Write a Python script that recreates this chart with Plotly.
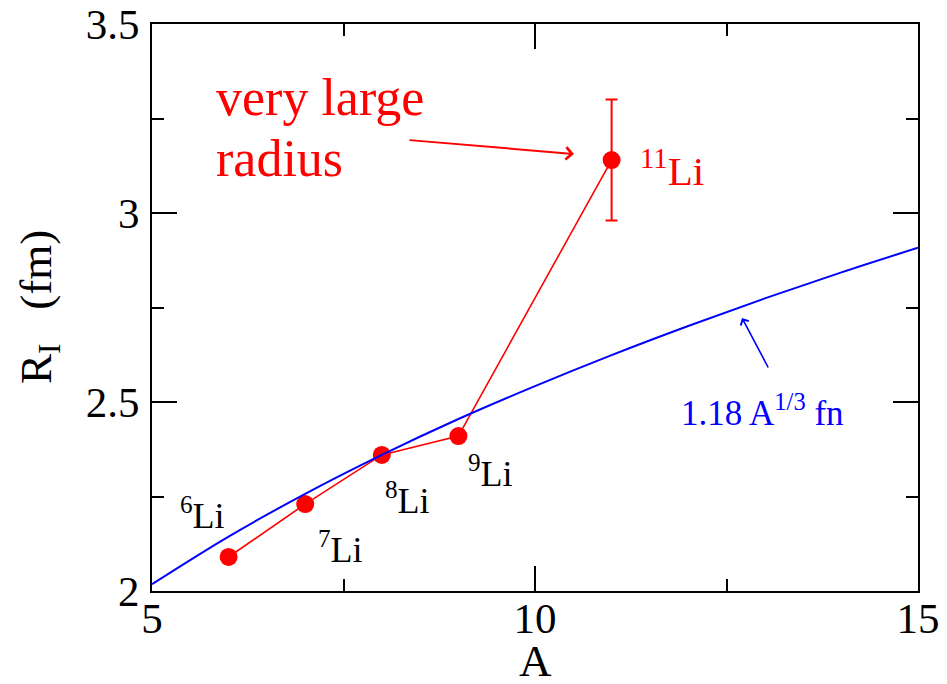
import plotly.graph_objects as go

# ---- data ----
mass_numbers = [6, 7, 8, 9, 11]
radii = [2.09, 2.23, 2.36, 2.41, 3.14]
radius_err = [0, 0, 0, 0, 0.16]
isotope_labels = ["<sup>6</sup>Li", "<sup>7</sup>Li", "<sup>8</sup>Li", "<sup>9</sup>Li", "<sup>11</sup>Li"]

curve_A = [5, 6, 7, 8, 9, 10, 11, 12, 13, 14, 15]
curve_R = [2.018, 2.144, 2.257, 2.360, 2.455, 2.542, 2.624, 2.701, 2.774, 2.843, 2.908]

x_ticks = [5, 10, 15]
y_ticks = [2, 2.5, 3, 3.5]
y_tick_text = ["2", "2.5", "3", "3.5"]

FONT = "Liberation Serif, Times New Roman, serif"
RED = "#ff0000"
BLUE = "#0000ff"

# pixel helpers for annotation placement
X0, X1, Y0, Y1 = 152, 918, 591, 24
def px_x(p):
    return 5 + (p - X0) * 10 / (X1 - X0)
def px_y(p):
    return 2 + (Y0 - p) * 1.5 / (Y0 - Y1)
def paper_x(p):
    return (p - X0) / (X1 - X0)
def paper_y(p):
    return (Y0 - p) / (Y0 - Y1)

fig = go.Figure()

fig.add_trace(go.Scatter(
    x=mass_numbers, y=radii, mode="lines+markers",
    line=dict(color=RED, width=1.6),
    marker=dict(color=RED, size=18),
    error_y=dict(type="data", array=radius_err, visible=True, color=RED, thickness=2, width=6),
    showlegend=False, hoverinfo="skip",
))

fig.add_trace(go.Scatter(
    x=curve_A, y=curve_R, mode="lines",
    line=dict(color=BLUE, width=2, shape="spline"),
    showlegend=False, hoverinfo="skip",
))

# isotope label positions (pixel: left edge, vertical centre)
label_pos = [(178, 513, "black", 36), (316, 547, "black", 36), (383, 498, "black", 36),
             (466, 471, "black", 36), (638, 168, RED, 41)]
for txt, (lx, ly, col, fs) in zip(isotope_labels, label_pos):
    fig.add_annotation(x=px_x(lx), y=px_y(ly), text=txt, showarrow=False,
                       xanchor="left", yanchor="middle",
                       font=dict(family=FONT, size=fs, color=col))

# "very large radius" text
fig.add_annotation(x=px_x(214), y=px_y(97), text="very large", showarrow=False,
                   xanchor="left", yanchor="middle", font=dict(family=FONT, size=52, color=RED))
fig.add_annotation(x=px_x(214), y=px_y(158), text="radius", showarrow=False,
                   xanchor="left", yanchor="middle", font=dict(family=FONT, size=52, color=RED))
# red arrow
fig.add_annotation(x=px_x(574), y=px_y(154), ax=408 - 574, ay=140 - 154,
                   xref="x", yref="y", axref="pixel", ayref="pixel",
                   text="", showarrow=True, arrowhead=4, arrowsize=1.2, arrowwidth=2,
                   arrowcolor=RED)

# blue label + arrow
fig.add_annotation(x=px_x(679), y=px_y(410), text="1.18 A<sup>1/3</sup> fn", showarrow=False,
                   xanchor="left", yanchor="middle", font=dict(family=FONT, size=35, color=BLUE))
fig.add_annotation(x=px_x(742), y=px_y(318), ax=769 - 742, ay=369 - 318,
                   xref="x", yref="y", axref="pixel", ayref="pixel",
                   text="", showarrow=True, arrowhead=4, arrowsize=1.1, arrowwidth=1.6,
                   arrowcolor=BLUE)

# axis titles as annotations
fig.add_annotation(x=paper_x(535), y=paper_y(661), xref="paper", yref="paper",
                   text="A", showarrow=False, xanchor="center", yanchor="middle",
                   font=dict(family=FONT, size=45, color="black"))
fig.add_annotation(x=paper_x(39), y=paper_y(307), xref="paper", yref="paper",
                   text="R<sub>I</sub>\u00a0\u00a0\u00a0(fm)", textangle=-90, showarrow=False,
                   xanchor="center", yanchor="middle",
                   font=dict(family=FONT, size=45, color="black"))

axis_common = dict(
    showline=True, linecolor="black", linewidth=2, mirror="ticks",
    ticks="inside", ticklen=25, tickwidth=2, tickcolor="black",
    showgrid=False, zeroline=False, automargin=False,
    tickfont=dict(family=FONT, size=43, color="black"),
)

fig.update_xaxes(range=[5, 15], tickvals=x_ticks, ticklabelstandoff=-12,
                 minor=dict(dtick=2.5, tick0=5, ticks="inside", ticklen=12, tickwidth=2, tickcolor="black", showgrid=False),
                 **axis_common)
fig.update_yaxes(range=[2, 3.5], tickvals=y_ticks, ticktext=y_tick_text, ticklabelstandoff=2,
                 minor=dict(dtick=0.25, tick0=2, ticks="inside", ticklen=12, tickwidth=2, tickcolor="black", showgrid=False),
                 **axis_common)

fig.update_layout(
    width=947, height=684,
    margin=dict(l=X0, r=947 - X1, t=Y1, b=684 - Y0),
    paper_bgcolor="white", plot_bgcolor="white",
)

fig.write_html("out.html")
